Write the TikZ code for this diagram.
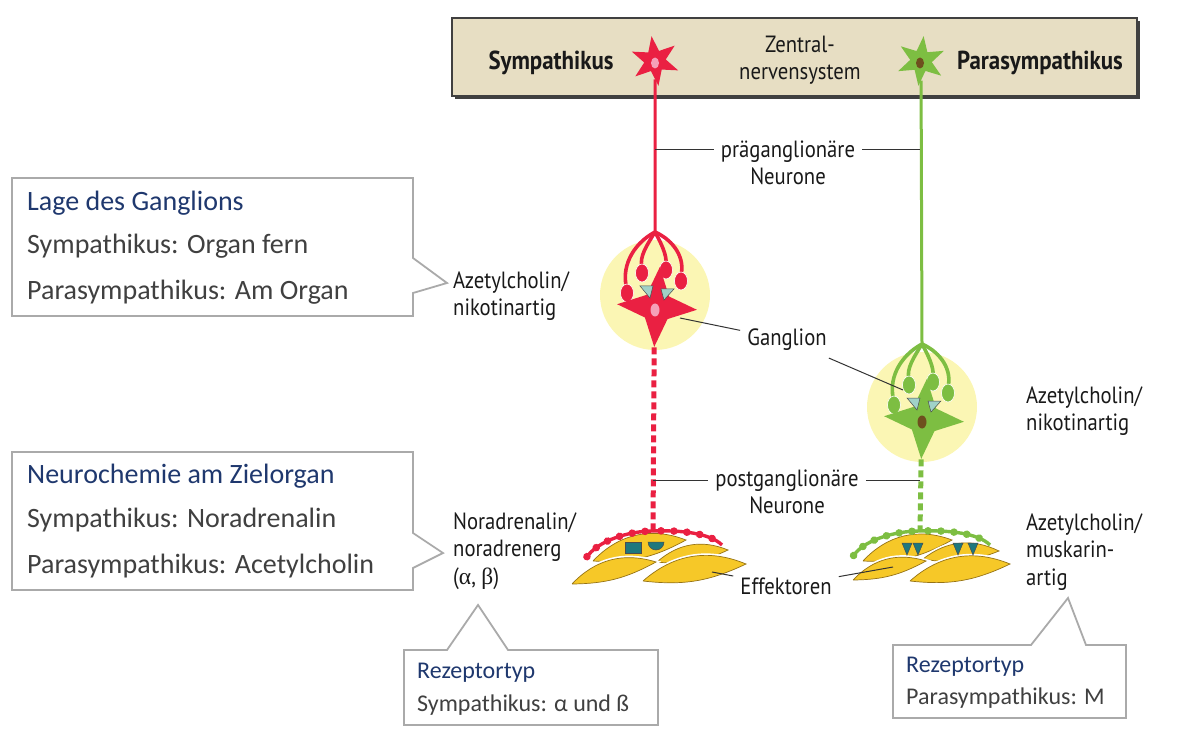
\documentclass[tikz,border=0pt]{standalone}
\usepackage{fontspec}
\setmainfont{Carlito}
\newfontfamily\diafont[FakeStretch=0.88]{PT Sans}
\newfontfamily\greekfont{Liberation Serif}
\usetikzlibrary{shapes.geometric,shadows,decorations.markings}
\definecolor{nred}{RGB}{234,32,66}
\definecolor{ngreen}{RGB}{125,190,66}
\definecolor{cnsbeige}{RGB}{231,222,195}
\definecolor{halo}{RGB}{251,246,180}
\definecolor{syncol}{RGB}{160,210,200}
\definecolor{rezcol}{RGB}{30,120,125}
\definecolor{effgold}{RGB}{246,200,40}
\definecolor{effline}{RGB}{150,115,20}
\definecolor{nucpink}{RGB}{245,160,185}
\definecolor{nucbrown}{RGB}{110,80,30}
\definecolor{headblue}{RGB}{31,56,110}
\definecolor{bodygray}{RGB}{64,64,64}
\definecolor{boxgray}{RGB}{170,170,170}
\begin{document}
\begin{tikzpicture}[x=1pt,y=-1pt,
  lbl/.style={font=\diafont\fontsize{23.5}{27.5}\selectfont, text=black!90, inner sep=7pt},
  bigname/.style={lbl, font=\diafont\bfseries\fontsize{26}{28}\selectfont},
  leader/.style={black!80, line width=1},
  preax/.style={line width=3},
  branch/.style={line width=3.6},
  postax/.style={line width=5, dash pattern=on 7pt off 4pt},
  neuron/.style={star, star points=6, star point ratio=2.3, minimum size=50, inner sep=0},
  cellbody/.style={star, star points=4, star point ratio=2.5, minimum size=80, inner sep=0, rotate=-4},
  nucleus/.style={ellipse, minimum width=9, minimum height=13, inner sep=0},
  bulb/.style={draw=white, line width=0.6},
  syn/.style={fill=syncol, draw=black!70, line width=0.5},
  effcell/.style={fill=effgold, draw=effline, line width=0.7, preaction={draw=white, line width=4}},
  term/.style={line width=3.4, postaction={decorate, decoration={markings,
    mark=between positions 8pt and 1 step 13pt with {\fill circle (3.8);}}}},
  callout/.style={draw=boxgray, line width=1.8, fill=white},
  head/.style={font=\fontsize{28}{30}\selectfont, text=headblue, anchor=west, inner sep=0},
  body/.style={head, text=bodygray},
  shead/.style={head, font=\fontsize{24}{26}\selectfont},
  sbody/.style={shead, text=bodygray}]
\useasboundingbox (0,0) rectangle (1200,743);

\node[draw=black!75, line width=1.2, fill=cnsbeige, minimum width=685, minimum height=78,
  drop shadow={shadow xshift=3pt, shadow yshift=-3pt, fill=black!75, opacity=1}] (cns) at (794.5,57) {};
\node[bigname] (symlbl) at (551,63) {Sympathikus};
\node[lbl, align=center] (zns) at (800,60) {Zentral-\\nervensystem};
\node[bigname] (paralbl) at (1040,63) {Parasympathikus};

\node[lbl, align=center] (pre) at (788,163) {präganglionäre\\Neurone};
\node[lbl] (gang) at (787,340) {Ganglion};
\node[lbl, align=center] (post) at (787,492) {postganglionäre\\Neurone};
\node[lbl] (eff) at (786,586) {Effektoren};
\node[lbl, align=left, anchor=west] (nikoL) at (446,296) {Azetylcholin/\\nikotinartig};
\node[lbl, align=left, anchor=west] (noradr) at (446,551) {Noradrenalin/\\noradrenerg\\({\greekfont α}, {\greekfont β})};
\node[lbl, align=left, anchor=west] (nikoR) at (1019,411) {Azetylcholin/\\nikotinartig};
\node[lbl, align=left, anchor=west] (muskR) at (1019,552) {Azetylcholin/\\muskarin-\\artig};

\coordinate (sym-term) at (653,531);
\coordinate (para-term) at (920,531);
\foreach \gx/\gy/\col/\nuc/\nm in {655/295/nred/nucpink/sym, 922/407/ngreen/nucbrown/para}{
  \begin{scope}[shift={(\gx,\gy)}]
    \node[circle, fill=halo, minimum size=110] (\nm-halo) at (0,0) {};
    \coordinate (\nm-split) at (0,-63);
    \draw[\col, branch] (\nm-split) .. controls (-24,-50) and (-34,-26) .. (-28,-6);
    \draw[\col, branch] (\nm-split) .. controls (-8,-50) and (-16,-38) .. (-13,-28);
    \draw[\col, branch] (\nm-split) .. controls (6,-52) and (12,-40) .. (11,-31);
    \draw[\col, branch] (\nm-split) .. controls (20,-54) and (30,-36) .. (26,-20);
    \foreach \bx/\by in {-28/-2, -13/-22, 11/-25, 26/-14}
      \filldraw[\col, bulb] (\bx,\by) ellipse (6.5 and 9);
    \node[cellbody, fill=\col] (\nm-cell) at (2,12) {};
    \filldraw[syn] (-15,-9) -- (-2,-9) -- (-5,3) -- cycle;
    \filldraw[syn] (6,-6) -- (19,-6) -- (9,5) -- cycle;
    \node[nucleus, fill=\nuc] (\nm-nuc) at (0,15) {};
    \draw[\col, postax] (\nm-cell.south) -- (\nm-term);
  \end{scope}}

\node[neuron, fill=nred, rotate=8] (symcns) at (655,61) {};
\node[neuron, fill=ngreen, rotate=-6] (paracns) at (921,61) {};
\draw[preax, nred] (symcns) -- (sym-split);
\draw[preax, ngreen] (paracns) -- (para-split);
\node[nucleus, fill=nucpink, minimum width=8, minimum height=11] (symcnsnuc) at (655,63) {};
\node[nucleus, fill=nucbrown, minimum width=8, minimum height=11] (paracnsnuc) at (920,63) {};

\path[effcell] (593,561) to[bend left=34] (686,540) to[bend left=16] (593,561);
\path[effcell] (657,562) to[bend left=32] (728,550) to[bend left=16] (657,562);
\path[effcell] (572,584) to[bend left=32] (656,562) to[bend left=14] (572,584);
\path[effcell] (643,581) to[bend left=32] (746,564) to[bend left=16] (643,581);
\path[effcell] (863,561) to[bend left=34] (952,540) to[bend left=16] (863,561);
\path[effcell] (923,559) to[bend left=32] (999,551) to[bend left=16] (923,559);
\path[effcell] (853,580) to[bend left=32] (926,561) to[bend left=14] (853,580);
\path[effcell] (910,581) to[bend left=32] (1010,564) to[bend left=16] (910,581);
\filldraw[fill=rezcol, draw=black!70, line width=0.5] (625,542) rectangle (641,553);
\filldraw[fill=rezcol, draw=black!70, line width=0.5] (648,542) arc[start angle=180, end angle=0, radius=8] -- cycle;
\foreach \rx in {907,918,958,973}
  \filldraw[fill=rezcol, draw=black!70, line width=0.5] (\rx-5,543) -- (\rx+5,543) -- (\rx,555) -- cycle;
\draw[term, nred] (sym-term) .. controls (630,531) and (598,540) .. (586,558);
\draw[term, nred] (sym-term) .. controls (680,530) and (710,533) .. (722,545);
\draw[term, ngreen] (para-term) .. controls (895,531) and (862,540) .. (852,558);
\draw[term, ngreen] (para-term) .. controls (948,530) and (978,533) .. (990,545);

\coordinate (sym-pre) at (655,150);
\coordinate (para-pre) at (920,150);
\coordinate (sym-post) at (653,480);
\coordinate (para-post) at (920,480);
\coordinate (sym-gang) at (680,318);
\coordinate (para-gang) at (903,390);
\coordinate (sym-eff) at (712,572);
\coordinate (para-eff) at (893,567);
\draw[leader] (sym-pre) -- (sym-pre -| pre.west);
\draw[leader] (pre.east |- para-pre) -- (para-pre);
\draw[leader] (sym-post) -- (sym-post -| post.west);
\draw[leader] (post.east |- para-post) -- (para-post);
\draw[leader] (sym-gang) -- (gang);
\draw[leader] (gang) -- (para-gang);
\draw[leader] (sym-eff) -- (eff);
\draw[leader] (eff) -- (para-eff);

\draw[callout] (12,178) -- (413,178) -- (413,258) -- (447,283) -- (413,293) -- (413,316) -- (12,316) -- cycle;
\node[head] (lageH) at (27,203) {Lage des Ganglions};
\node[body] (lageS) at (27,246) {Sympathikus: Organ fern};
\node[body] (lageP) at (27,292) {Parasympathikus: Am Organ};
\draw[callout] (12,452) -- (413,452) -- (413,533) -- (443,553) -- (413,568) -- (413,590) -- (12,590) -- cycle;
\node[head] (chemH) at (27,476) {Neurochemie am Zielorgan};
\node[body] (chemS) at (27,520) {Sympathikus: Noradrenalin};
\node[body] (chemP) at (27,566) {Parasympathikus: Acetylcholin};
\draw[callout] (404,650) -- (447,650) -- (478,605) -- (508,650) -- (658,650) -- (658,725) -- (404,725) -- cycle;
\node[shead] (rezSH) at (417,673) {Rezeptortyp};
\node[sbody] (rezSB) at (417,705) {Sympathikus: α und ß};
\draw[callout] (893,645) -- (1031,645) -- (1068,598) -- (1086,645) -- (1126,645) -- (1126,718) -- (893,718) -- cycle;
\node[shead] (rezPH) at (906,667) {Rezeptortyp};
\node[sbody] (rezPB) at (906,698) {Parasympathikus: M};
\end{tikzpicture}
\end{document}
